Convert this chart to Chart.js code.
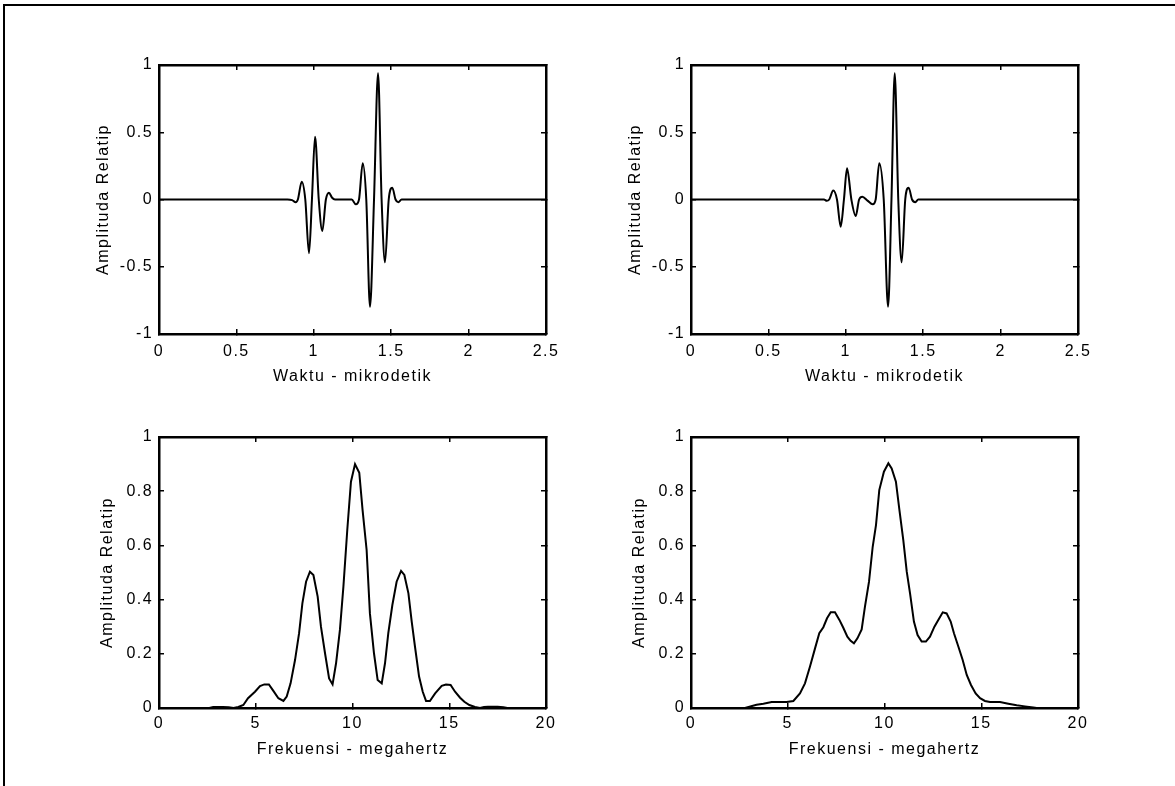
<!DOCTYPE html>
<html><head><meta charset="utf-8">
<script src="https://cdn.jsdelivr.net/npm/chart.js@4/dist/chart.umd.min.js"></script>
<style>
html,body{margin:0;padding:0;background:#fff;width:1175px;height:786px;overflow:hidden;}
#frame{position:absolute;left:3px;top:4px;width:1300px;height:900px;border:2px solid #000;box-sizing:border-box}
canvas{position:absolute}
</style></head><body>
<div id="frame"></div>
<canvas id="c1" width="530" height="355" style="left:50px;top:40px;width:530px;height:355px"></canvas>
<canvas id="c2" width="530" height="355" style="left:582px;top:40px;width:530px;height:355px"></canvas>
<canvas id="c3" width="530" height="385" style="left:50px;top:395px;width:530px;height:385px"></canvas>
<canvas id="c4" width="530" height="385" style="left:582px;top:395px;width:530px;height:385px"></canvas>
<script>
// ---- data ----
const timeLabel = "Waktu - mikrodetik";
const freqLabel = "Frekuensi - megahertz";
const ampLabel = "Amplituda Relatip";

const timeTicks = [0, 0.5, 1, 1.5, 2, 2.5];
const ampTicksTop = [-1, -0.5, 0, 0.5, 1];
const freqTicks = [0, 5, 10, 15, 20];
const ampTicksBottom = [0, 0.2, 0.4, 0.6, 0.8, 1];

const tA = [0, 0.83, 0.86, 0.883, 0.897, 0.922, 0.945, 0.969, 0.988, 1.008, 1.032, 1.055, 1.078, 1.098, 1.117, 1.137,
            1.245, 1.272, 1.292, 1.316, 1.339, 1.363, 1.389, 1.415, 1.438, 1.460, 1.484, 1.507, 1.528, 1.546, 1.567, 2.5];
const vA = [0, 0, -0.005, -0.02, 0, 0.132, 0, -0.40, 0, 0.467, 0, -0.234, 0, 0.051, 0.015, 0,
            0, -0.036, 0, 0.269, 0, -0.797, 0, 0.938, 0, -0.467, 0, 0.088, 0, -0.02, 0, 0];

const tB = [0, 0.859, 0.877, 0.893, 0.919, 0.943, 0.967, 0.988, 1.008, 1.036, 1.064, 1.086, 1.107, 1.14, 1.174, 1.193,
            1.216, 1.245, 1.273, 1.295, 1.316, 1.339, 1.361, 1.384, 1.406, 1.428, 1.449, 1.468, 2.5];
const vB = [0, 0, -0.01, 0, 0.066, 0, -0.202, 0, 0.232, 0, -0.123, 0, 0.021, -0.008, -0.036, 0,
            0.269, 0, -0.797, 0, 0.938, 0, -0.467, 0, 0.088, 0, -0.02, 0, 0];

const fL = [0, 2.6, 2.8, 3.3, 3.6, 3.85, 4.1, 4.36, 4.6, 4.96, 5.22, 5.44, 5.68, 5.91, 6.17, 6.43, 6.6, 6.8, 7.03, 7.24,
            7.41, 7.6, 7.8, 7.98, 8.2, 8.37, 8.58, 8.79, 8.97, 9.15, 9.35, 9.53, 9.73, 9.92, 10.13, 10.35, 10.52, 10.73, 10.9, 11.11,
            11.3, 11.51, 11.68, 11.85, 12.06, 12.28, 12.51, 12.68, 12.89, 13.06, 13.23, 13.44, 13.63, 13.8, 14.0, 14.27, 14.61, 14.83, 15.07, 15.3,
            15.56, 15.78, 16.04, 16.33, 16.59, 16.8, 17.0, 17.5, 17.8, 18.0, 20];
const vL = [0, 0, 0.004, 0.004, 0.003, 0, 0.004, 0.011, 0.036, 0.06, 0.081, 0.087, 0.087, 0.063, 0.036, 0.026, 0.042, 0.091, 0.177, 0.276,
            0.386, 0.466, 0.503, 0.491, 0.411, 0.30, 0.202, 0.109, 0.087, 0.165, 0.288, 0.448, 0.657, 0.835, 0.90, 0.868, 0.731, 0.583, 0.349, 0.202,
            0.103, 0.091, 0.165, 0.276, 0.38, 0.466, 0.506, 0.491, 0.423, 0.319, 0.226, 0.116, 0.06, 0.026, 0.026, 0.054, 0.082, 0.087, 0.085, 0.06,
            0.038, 0.023, 0.011, 0.004, 0, 0.004, 0.005, 0.005, 0.003, 0, 0];

const fR = [0, 2.79, 2.88, 3.39, 3.74, 4.17, 4.6, 4.94, 5.29, 5.63, 5.89, 6.15, 6.41, 6.63, 6.84, 7.03, 7.22, 7.44, 7.67, 7.87,
            8.08, 8.25, 8.42, 8.6, 8.82, 8.99, 9.2, 9.39, 9.56, 9.73, 9.97, 10.2, 10.37, 10.59, 10.77, 10.97, 11.15, 11.32, 11.52, 11.71,
            11.92, 12.14, 12.35, 12.58, 12.78, 13.01, 13.21, 13.42, 13.59, 13.82, 14.04, 14.25, 14.47, 14.71, 14.94, 15.19, 15.45, 15.97, 16.4, 16.83,
            17.26, 17.69, 17.86, 20];
const vR = [0, 0, 0.002, 0.012, 0.016, 0.022, 0.022, 0.022, 0.026, 0.054, 0.091, 0.153, 0.22, 0.276, 0.298, 0.331, 0.353, 0.353, 0.325, 0.296,
            0.263, 0.248, 0.239, 0.257, 0.29, 0.374, 0.466, 0.595, 0.675, 0.804, 0.872, 0.903, 0.884, 0.835, 0.731, 0.62, 0.503, 0.423, 0.319, 0.269,
            0.245, 0.245, 0.263, 0.30, 0.325, 0.353, 0.349, 0.319, 0.276, 0.226, 0.177, 0.122, 0.085, 0.054, 0.036, 0.026, 0.022, 0.022, 0.016, 0.01,
            0.006, 0.002, 0, 0];

// ---- chart construction ----
const FONT = {family: "'Liberation Sans', Arial, Helvetica, sans-serif", size: 16};
Chart.register({id: 'spacing', beforeDraw(chart) { chart.ctx.letterSpacing = '1.5px'; }});

function pts(xs, ys) { return xs.map((x, i) => ({x: x, y: ys[i]})); }
function fmt(v) { return String(Number(Number(v).toFixed(6))); }

function axis(pos, ticks, show, extra) {
  const step = ticks[1] - ticks[0];
  const o = {
    type: 'linear', position: pos, axis: (pos === 'top' || pos === 'bottom') ? 'x' : 'y',
    min: ticks[0], max: ticks[ticks.length - 1],
    ticks: {stepSize: step, display: show, color: '#000', font: FONT, padding: extra.pad || 0, maxRotation: 0, autoSkip: false,
            callback: fmt},
    grid: {drawOnChartArea: false, drawTicks: true, tickLength: -5, color: '#000', lineWidth: 1.5},
    border: {display: true, color: '#000', width: 2.5},
    afterFit(s) { if (extra.h !== undefined) s.height = extra.h; if (extra.w !== undefined) s.width = extra.w; }
  };
  if (extra.title) o.title = {display: true, text: extra.title, color: '#000', font: FONT, padding: extra.tpad};
  return o;
}

function make(id, xs, ys, xt, yt, xTitle, geo, smooth) {
  new Chart(document.getElementById(id), {
    type: 'line',
    data: {datasets: [{data: pts(xs, ys), borderColor: '#000', borderWidth: 2, pointRadius: 0,
      fill: false, tension: smooth ? 0.4 : 0, cubicInterpolationMode: smooth ? 'monotone' : 'default'}]},
    options: {
      responsive: false, animation: false, events: [],
      layout: {padding: 0},
      plugins: {legend: {display: false}, tooltip: {enabled: false}},
      scales: {
        x: axis('bottom', xt, true, {h: geo.bottom, pad: geo.xpad, title: xTitle, tpad: {top: 0, bottom: geo.xtp}}),
        x2: axis('top', xt, false, {h: geo.top}),
        y: axis('left', yt, true, {w: 109, pad: 10.8, title: ampLabel, tpad: {top: geo.ytp, bottom: 0}}),
        y2: axis('right', yt, false, {w: 34})
      }
    }
  });
}

const geoTop = {top: 25, bottom: 61, xpad: 13.4, xtp: 8.9, ytp: 44};
const geoBot = {top: 42, bottom: 72, xpad: 11.2, xtp: 20.7, ytp: 48.4};

make('c1', tA, vA, timeTicks, ampTicksTop, timeLabel, geoTop, true);
make('c2', tB, vB, timeTicks, ampTicksTop, timeLabel, geoTop, true);
make('c3', fL, vL, freqTicks, ampTicksBottom, freqLabel, geoBot, false);
make('c4', fR, vR, freqTicks, ampTicksBottom, freqLabel, geoBot, false);
</script>
</body></html>
